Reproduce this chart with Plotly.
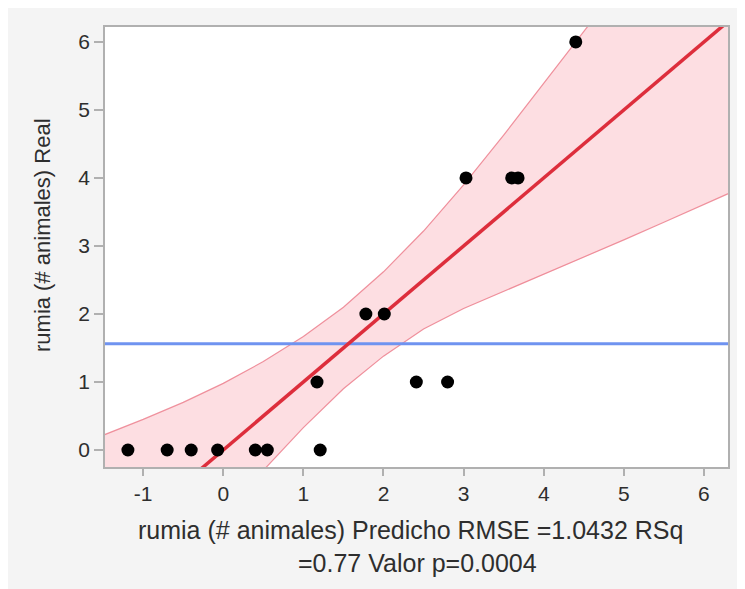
import plotly.graph_objects as go

# Data
pred_x = [-1.19, -0.70, -0.40, -0.07, 0.40, 0.55, 1.21,
          1.17, 2.41, 2.80,
          1.78, 2.01,
          3.03, 3.60, 3.68,
          4.40]
real_y = [0, 0, 0, 0, 0, 0, 0,
          1, 1, 1,
          2, 2,
          4, 4, 4,
          6]

fit_x = [-1.6, 6.4]
fit_y = [-1.6, 6.4]

mean_y = 1.5625

band_x = [-1.6, -1.0, -0.5, 0.0, 0.5, 1.0, 1.5, 2.0, 2.5, 3.0, 3.5, 4.0, 4.5, 5.0, 5.5, 6.4]
upper_y = [0.17, 0.45, 0.70, 0.98, 1.30, 1.67, 2.10, 2.62, 3.22, 3.90, 4.63, 5.40, 6.18, 6.96, 7.75, 9.05]
lower_y = [-3.38, -2.45, -1.70, -0.98, -0.30, 0.33, 0.90, 1.38, 1.78, 2.08, 2.33, 2.58, 2.83, 3.09, 3.35, 3.82]

x_ticks = [-1, 0, 1, 2, 3, 4, 5, 6]
y_ticks = [0, 1, 2, 3, 4, 5, 6]

x_title_lines = ["rumia (# animales) Predicho RMSE =1.0432 RSq", "=0.77 Valor p=0.0004"]
y_title = "rumia (# animales) Real"

FONT = "Liberation Sans, Arial, sans-serif"
TXT = "#2e2e2e"

fig = go.Figure()

# confidence band fill
fig.add_trace(go.Scatter(
    x=band_x + band_x[::-1], y=upper_y + lower_y[::-1],
    fill="toself", fillcolor="rgba(245,90,110,0.2)",
    line=dict(width=0), mode="lines", hoverinfo="skip", showlegend=False))
# band edges
for yy in (upper_y, lower_y):
    fig.add_trace(go.Scatter(x=band_x, y=yy, mode="lines",
                             line=dict(color="rgba(235,120,135,0.8)", width=1.2),
                             hoverinfo="skip", showlegend=False))
# mean line
fig.add_trace(go.Scatter(x=fit_x, y=[mean_y, mean_y], mode="lines",
                         line=dict(color="#6f93f0", width=3),
                         showlegend=False))
# fit line
fig.add_trace(go.Scatter(x=fit_x, y=fit_y, mode="lines",
                         line=dict(color="#dd2e3c", width=3.5),
                         showlegend=False))
# points
fig.add_trace(go.Scatter(x=pred_x, y=real_y, mode="markers",
                         marker=dict(color="black", size=13),
                         showlegend=False))

W, H = 737, 581
L, R, T, B = 97, 17, 19, 122
pw, ph = W - L - R, H - T - B

def px(p):
    return (p - L) / pw

def py(p):
    return (H - B - p) / ph

fig.update_layout(
    width=W, height=H,
    margin=dict(l=L, r=R, t=T, b=B),
    paper_bgcolor="#f4f4f4",
    plot_bgcolor="white",
    font=dict(family=FONT, color=TXT, size=20),
    annotations=[
        dict(text=y_title, xref="paper", yref="paper", textangle=-90,
             x=px(34), y=py(227), xanchor="center", yanchor="middle",
             showarrow=False, font=dict(size=22, color=TXT)),
        dict(text=x_title_lines[0], xref="paper", yref="paper",
             x=px(402), y=py(522), xanchor="center", yanchor="middle",
             showarrow=False, font=dict(size=25, color=TXT)),
        dict(text=x_title_lines[1], xref="paper", yref="paper",
             x=px(409), y=py(555), xanchor="center", yanchor="middle",
             showarrow=False, font=dict(size=25, color=TXT)),
    ],
    xaxis=dict(
        range=[-1.476, 6.30], tickvals=x_ticks, ticktext=[str(v) for v in x_ticks],
        showgrid=False, zeroline=False,
        showline=True, linecolor="#b0b0b0", linewidth=1.5, mirror=True,
        ticks="outside", ticklen=7, tickcolor="#b0b0b0", tickwidth=1.5,
        tickfont=dict(size=21, color=TXT),
    ),
    yaxis=dict(
        range=[-0.25, 6.22], tickvals=y_ticks, ticktext=[str(v) for v in y_ticks],
        showgrid=False, zeroline=False,
        showline=True, linecolor="#b0b0b0", linewidth=1.5, mirror=True,
        ticks="outside", ticklen=9, tickcolor="#b0b0b0", tickwidth=1.5,
        tickfont=dict(size=21, color=TXT),
    ),
)

fig.write_html("out.html")
